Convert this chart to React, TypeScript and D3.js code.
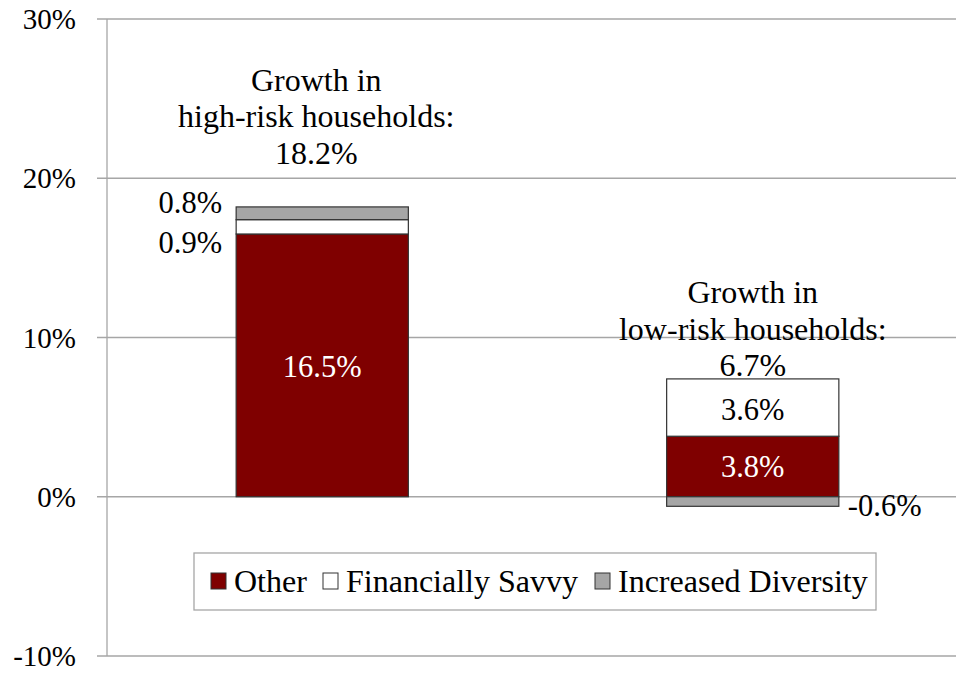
import { useEffect, useRef } from "react";
import * as d3 from "d3";

const groups = ["high", "low"];
const groupTitles = ["high-risk households:", "low-risk households:"];
const totals = [18.2, 6.7];
const seriesNames = ["Other", "Financially Savvy", "Increased Diversity"];
const seriesColors = ["#7f0000", "#ffffff", "#a6a6a6"];
const otherValues = [16.5, 3.8];
const savvyValues = [0.9, 3.6];
const diversityValues = [0.8, -0.6];
const yTicks = [-10, 0, 10, 20, 30];

const FONT = "Times New Roman, Liberation Serif, DejaVu Serif, serif";

const App = () => {
  const svgRef = useRef(null);
  const width = 956;
  const height = 675;

  useEffect(() => {
    const x = d3
      .scaleBand()
      .domain(groups)
      .range([107, 968])
      .paddingInner(0.6)
      .paddingOuter(0.3);
    const y = d3.scaleLinear().domain([-10, 30]).range([656, 19]);

    const svgEl = d3.select(svgRef.current);
    svgEl.selectAll("*").remove();
    const svg = svgEl.append("g").style("font-family", FONT);

    // gridlines + ticks
    svg
      .selectAll(".grid")
      .data(yTicks)
      .enter()
      .append("line")
      .attr("x1", 97)
      .attr("x2", width)
      .attr("y1", (d) => y(d))
      .attr("y2", (d) => y(d))
      .attr("stroke", "#a6a6a6")
      .attr("stroke-width", 1.3);
    svg
      .append("line")
      .attr("x1", 107)
      .attr("x2", 107)
      .attr("y1", y(30))
      .attr("y2", y(-10))
      .attr("stroke", "#a6a6a6")
      .attr("stroke-width", 1.3);
    svg
      .selectAll(".tick")
      .data(yTicks)
      .enter()
      .append("text")
      .attr("x", 76)
      .attr("y", (d) => y(d) + 10)
      .attr("text-anchor", "end")
      .attr("font-size", 29)
      .text((d) => `${d}%`);

    // stacked segments
    const segs: any[] = [];
    groups.forEach((g, i) => {
      const vals = [otherValues[i], savvyValues[i], diversityValues[i]];
      let pos = 0;
      let neg = 0;
      vals.forEach((v, k) => {
        let y0, y1;
        if (v >= 0) {
          y0 = pos;
          y1 = pos + v;
          pos = y1;
        } else {
          y0 = neg + v;
          y1 = neg;
          neg = y0;
        }
        segs.push({ g, i, k, v, y0, y1 });
      });
    });

    svg
      .selectAll(".seg")
      .data(segs)
      .enter()
      .append("rect")
      .attr("x", (d) => x(d.g))
      .attr("width", x.bandwidth())
      .attr("y", (d) => y(d.y1))
      .attr("height", (d) => y(d.y0) - y(d.y1))
      .attr("fill", (d) => seriesColors[d.k])
      .attr("stroke", "#333")
      .attr("stroke-width", 1.2);

    const label = (txt, lx, ly, anchor, color = "#000", size = 30.5) =>
      svg
        .append("text")
        .attr("x", lx)
        .attr("y", ly)
        .attr("text-anchor", anchor)
        .attr("dominant-baseline", "central")
        .attr("font-size", size)
        .attr("fill", color)
        .text(txt);

    const fmt = (v) => `${v.toFixed(1)}%`;
    const bx0 = x("high");
    const bx1 = x("low");
    const bw = x.bandwidth();

    // high-risk labels
    label(fmt(otherValues[0]), bx0 + bw / 2, y(otherValues[0] / 2) + 2, "middle", "#fff");
    label(fmt(savvyValues[0]), bx0 - 14, y(otherValues[0] + savvyValues[0] / 2) + 16, "end");
    label(
      fmt(diversityValues[0]),
      bx0 - 14,
      y(otherValues[0] + savvyValues[0] + diversityValues[0] / 2) - 10,
      "end"
    );
    // low-risk labels
    label(fmt(otherValues[1]), bx1 + bw / 2, y(otherValues[1] / 2) + 1, "middle", "#fff");
    label(fmt(savvyValues[1]), bx1 + bw / 2, y(otherValues[1] + savvyValues[1] / 2) + 2, "middle");
    label(fmt(diversityValues[1]), bx1 + bw + 9, y(diversityValues[1] / 2) + 4, "start");

    // growth annotations
    const annOffset = [54, 25];
    groups.forEach((g, i) => {
      const cx = x(g) + bw / 2 - (i === 0 ? 6 : 0);
      const top = y(totals[i]) - annOffset[i];
      label("Growth in", cx, top - 73, "middle", "#000", 32);
      label(groupTitles[i], cx, top - 36.5, "middle", "#000", 32);
      label(fmt(totals[i]), cx, top, "middle", "#000", 32);
    });

    // legend
    const lg = svg.append("g");
    lg.append("rect")
      .attr("x", 194)
      .attr("y", 553)
      .attr("width", 682)
      .attr("height", 57)
      .attr("fill", "#fff")
      .attr("stroke", "#a6a6a6")
      .attr("stroke-width", 1.3);
    const itemX = [211, 323, 595];
    seriesNames.forEach((n, k) => {
      lg.append("rect")
        .attr("x", itemX[k])
        .attr("y", 573)
        .attr("width", 15)
        .attr("height", 16)
        .attr("fill", seriesColors[k])
        .attr("stroke", "#333")
        .attr("stroke-width", 1);
      lg.append("text")
        .attr("x", itemX[k] + 23)
        .attr("y", 581)
        .attr("dominant-baseline", "central")
        .attr("font-size", 32)
        .text(n);
    });
  }, []);

  return (
    <svg
      ref={svgRef}
      width={width}
      height={height}
      style={{ position: "absolute", left: 0, top: 0, background: "#fff" }}
    />
  );
};

export default App;
